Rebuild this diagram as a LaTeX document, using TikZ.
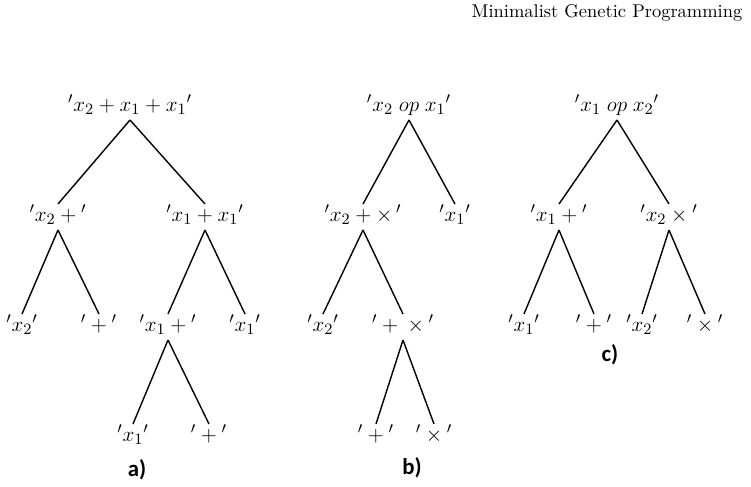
\documentclass[tikz,border=0pt]{standalone}
\usepackage{amsmath}
\usepackage{fontspec}
\newfontfamily\labelfont{Carlito}

\begin{document}
\begin{tikzpicture}
				[x=0.02cm,y=-0.02cm,line width=0.8pt,
				every node/.style={inner sep=0pt,text height=9.5pt,text depth=4.5pt,font=\fontsize{13}{15}\selectfont},
				lbl/.style={font=\labelfont\bfseries\fontsize{13}{15}\selectfont}]
				\useasboundingbox (0,0) rectangle (751,487);
				\node[anchor=east,font=\fontsize{10.5}{12}\selectfont] (title) at (743,13) {Minimalist Genetic Programming};
				
				% tree a
				\node (a1) at (130,107) {${}'x_2+x_1+x_1{}'$};
				\node (a2) at (58,217)  {${}'x_2+{}'$};
				\node (a3) at (205,217) {${}'x_1+x_1{}'$};
				\node (a4) at (22,327)  {${}'x_2{}'$};
				\node (a5) at (99,327)  {${}'{}+{}'$};
				\node (a6) at (168,327) {${}'x_1+{}'$};
				\node (a7) at (245,327) {${}'x_1{}'$};
				\node (a8) at (133,437) {${}'x_1{}'$};
				\node (a9) at (209,437) {${}'{}+{}'$};
				\node[lbl] (la) at (137,472) {a)};
				
				\foreach \a/\b in {1/2,1/3,2/4,2/5,3/6,3/7,6/8,6/9}
				\draw (a\a.south) -- (a\b.north);
				
				% tree b
				\node (b1) at (409,107) {${}'x_2\;op\;x_1{}'$};
				\node (b2) at (363,217) {${}'x_2+\times{}\,{}'$};
				\node (b3) at (455,217) {${}'x_1{}'$};
				\node (b4) at (323,327) {${}'x_2{}'$};
				\node (b5) at (403,327) {${}'{}+{}\times{}'$};
				\node (b6) at (376,437) {${}'{}+{}'$};
				\node (b7) at (434,437) {${}'{}\times{}'$};
				\node[lbl] (lb) at (412,470) {b)};
				
				\foreach \a/\b in {1/2,1/3,2/4,2/5,5/6,5/7}
				\draw (b\a.south) -- (b\b.north);
				
				% tree c
				\node (c1) at (617,107) {${}'x_1\;op\;x_2{}'$};
				\node (c2) at (559,217) {${}'x_1+{}'$};
				\node (c3) at (669,217) {${}'x_2\times{}'$};
				\node (c4) at (524,327) {${}'x_1{}'$};
				\node (c5) at (594,327) {${}'{}+{}'$};
				\node (c6) at (642,327) {${}'x_2{}'$};
				\node (c7) at (705,327) {${}'{}\times{}'$};
				\node[lbl] (lc) at (610,357) {c)};
				
				\foreach \a/\b in {1/2,1/3,2/4,2/5,3/6,3/7}
				\draw (c\a.south) -- (c\b.north);
				\end{tikzpicture}
\end{document}
